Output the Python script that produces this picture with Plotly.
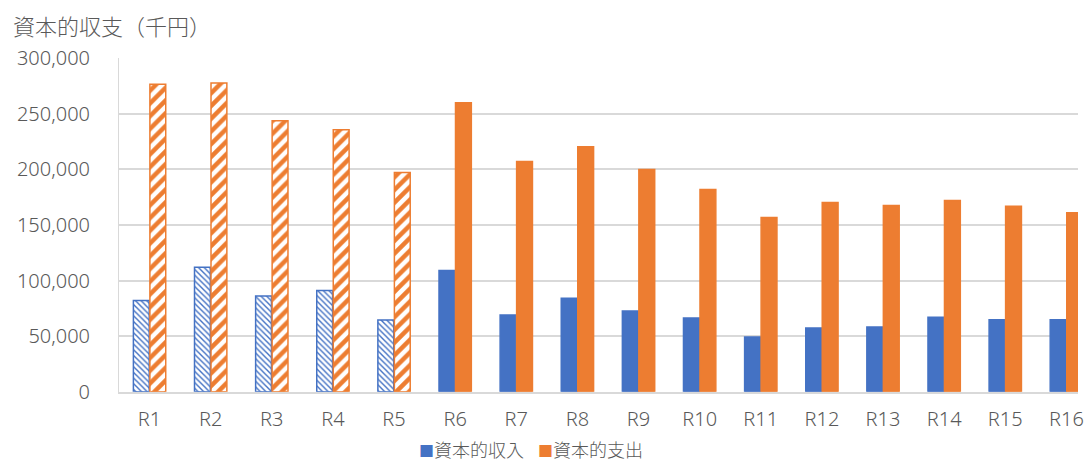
import plotly.graph_objects as go

categories = ["R1", "R2", "R3", "R4", "R5", "R6", "R7", "R8", "R9", "R10",
              "R11", "R12", "R13", "R14", "R15", "R16"]
income = [82000, 112000, 86000, 91000, 64500, 109000, 69000, 84000, 72500, 66300,
          49300, 57300, 58200, 67000, 64700, 64700]
expense = [276500, 277500, 243500, 235400, 197000, 259700, 206900, 220300, 199700, 181800,
           156700, 170100, 167500, 172000, 166800, 161000]
hatched = [True, True, True, True, True] + [False] * 11

name_in = "資本的収入"
name_out = "資本的支出"
title_text = "資本的収支（千円）"

BLUE = "#4472C4"
ORANGE = "#ED7D31"
GRAY = "#595959"
FONT = "Noto Sans, Noto Sans CJK JP, sans-serif"
CJK = "Noto Sans CJK JP, sans-serif"

fig = go.Figure()
fig.add_trace(go.Bar(
    x=categories, y=income, name=name_in, showlegend=False,
    marker=dict(
        color=BLUE,
        line=dict(color=BLUE, width=1.5),
        pattern=dict(shape=["\\" if h else "" for h in hatched],
                     fillmode="replace", fgcolor=BLUE, bgcolor="white",
                     size=4, solidity=0.35),
    ),
))
fig.add_trace(go.Bar(
    x=categories, y=expense, name=name_out, showlegend=False,
    marker=dict(
        color=ORANGE,
        line=dict(color=ORANGE, width=1.5),
        pattern=dict(shape=["/" if h else "" for h in hatched],
                     fillmode="replace", fgcolor=ORANGE, bgcolor="white",
                     size=9, solidity=0.5),
    ),
))
# legend entries: coloured square glyph + label, each in its own legend box
for nm, col, lg in [(name_in, BLUE, "legend"), (name_out, ORANGE, "legend2")]:
    fig.add_trace(go.Scatter(
        x=[None], y=[None], mode="markers", legend=lg,
        name=f"<span style='color:{col};font-size:15px'>■</span>{nm}",
        marker=dict(symbol="square", size=1, color="rgba(0,0,0,0)"),
    ))

leg_common = dict(orientation="h", xref="container", yref="container",
                  xanchor="left", y=14 / 464, yanchor="middle",
                  font=dict(size=18, color=GRAY, family=CJK, weight=300),
                  itemwidth=30, bgcolor="rgba(0,0,0,0)")

fig.update_layout(
    width=1084, height=464,
    margin=dict(l=119, r=0, t=58, b=71),
    paper_bgcolor="white", plot_bgcolor="white",
    barmode="group", bargap=0.46, bargroupgap=0.04,
    font=dict(family=FONT, color=GRAY, size=20, weight=300),
    title=dict(text=title_text, xref="container", yref="container",
               x=0.012, xanchor="left", y=1 - 27 / 464, yanchor="middle",
               font=dict(size=22, color=GRAY, family=CJK, weight=300)),
    legend=dict(x=379 / 1084, **leg_common),
    legend2=dict(x=498 / 1084, **leg_common),
    showlegend=True,
)
fig.update_yaxes(
    range=[0, 300000], dtick=50000, tickformat=",d",
    showgrid=True, gridcolor="#D9D9D9", gridwidth=1.5,
    zeroline=False, showline=True, linecolor="#D9D9D9", linewidth=1,
    ticks="", ticklabelstandoff=24,
    tickfont=dict(size=20, color=GRAY, family=FONT, weight=300),
)
fig.update_xaxes(
    type="category", range=[-0.5, 15.19],
    showgrid=False, showline=True, linecolor="#D9D9D9", linewidth=1.5,
    ticks="", ticklabelstandoff=8,
    tickfont=dict(size=20, color=GRAY, family=FONT, weight=300),
)

fig.write_html("out.html")
